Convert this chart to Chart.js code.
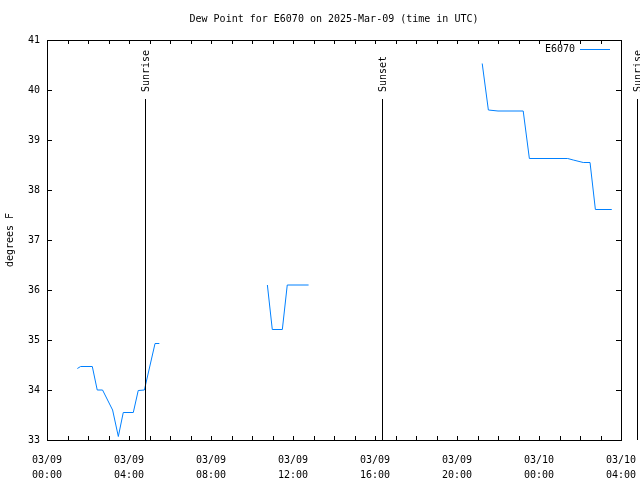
<!DOCTYPE html>
<html>
<head>
<meta charset="utf-8">
<title>Dew Point for E6070</title>
<script src="https://cdn.jsdelivr.net/npm/chart.js@4"></script>
<style>
  html, body { margin: 0; padding: 0; background: #fff; }
  #wrap { width: 640px; height: 480px; }
</style>
</head>
<body>
<div id="wrap"><canvas id="myChart" width="640" height="480"></canvas></div>
<script>
// hours since 03/09 00:00 UTC, null = no data
const horas = [1.48, 1.64, 2.21, 2.45, 2.71, 3.2, 3.48, 3.72, 4.21, 4.45, 4.75, 5.27, 5.48,
    8,
    10.75, 10.99, 11.48, 11.72, 12.76,
    17,
    21.23, 21.53, 22.0, 23.23, 23.53, 25.4, 25.67, 26.16, 26.49, 26.75, 27.55];
const puntoRocio = [34.43, 34.47, 34.47, 34.0, 34.0, 33.6, 33.07, 33.55, 33.55, 33.99, 34.0, 34.93, 34.93,
    null,
    36.1, 35.21, 35.21, 36.1, 36.1,
    null,
    40.53, 39.6, 39.58, 39.58, 38.63, 38.63, 38.6, 38.55, 38.55, 37.61, 37.61];

const etiquetasX = [["03/09", "00:00"], ["03/09", "04:00"], ["03/09", "08:00"], ["03/09", "12:00"],
    ["03/09", "16:00"], ["03/09", "20:00"], ["03/10", "00:00"], ["03/10", "04:00"]];

const eventos = ["Sunrise", "Sunset", "Sunrise"];
const horasEventos = [4.78, 16.34, 28.78];
const topeEventos = 39.82;

const titulo = "Dew Point for E6070 on 2025-Mar-09 (time in UTC)";
const nombreSerie = "E6070";
const colorSerie = "#0080ff";
const fuente = "'DejaVu Sans Mono', monospace";

const marcoPlugin = {
    id: "marco",
    afterDraw(chart) {
        const ctx = chart.ctx;
        const a = chart.chartArea;
        const x = chart.scales.x;
        const y = chart.scales.y;
        ctx.save();
        ctx.strokeStyle = "#000";
        ctx.lineWidth = 1;
        ctx.strokeRect(Math.round(a.left) + 0.5, Math.round(a.top) + 0.5,
            Math.round(a.right - a.left), Math.round(a.bottom - a.top));
        // ticks hacia adentro
        ctx.beginPath();
        for (let h = 0; h <= 28; h++) {
            const px = Math.round(x.getPixelForValue(h)) + 0.5;
            ctx.moveTo(px, a.bottom); ctx.lineTo(px, a.bottom - 4);
            ctx.moveTo(px, a.top); ctx.lineTo(px, a.top + 4);
        }
        for (let v = 33; v <= 41; v++) {
            const py = Math.round(y.getPixelForValue(v)) + 0.5;
            ctx.moveTo(a.left, py); ctx.lineTo(a.left + 5, py);
            ctx.moveTo(a.right, py); ctx.lineTo(a.right - 5, py);
        }
        ctx.stroke();
        ctx.font = "10px " + fuente;
        ctx.fillStyle = "#000";
        // titulo centrado sobre el area del grafico
        ctx.textAlign = "center";
        ctx.textBaseline = "middle";
        ctx.fillText(titulo, (a.left + a.right) / 2, 19);
        // lineas de amanecer / atardecer
        eventos.forEach((nombre, i) => {
            const px = Math.round(x.getPixelForValue(horasEventos[i])) + 0.5;
            const pyTop = y.getPixelForValue(topeEventos);
            ctx.beginPath();
            ctx.moveTo(px, pyTop);
            ctx.lineTo(px, a.bottom);
            ctx.stroke();
            ctx.save();
            ctx.translate(px, pyTop - 7);
            ctx.rotate(-Math.PI / 2);
            ctx.textAlign = "left";
            ctx.textBaseline = "middle";
            ctx.fillText(nombre, 0, 1);
            ctx.restore();
        });
        // leyenda
        ctx.textAlign = "right";
        ctx.textBaseline = "middle";
        ctx.fillText(nombreSerie, 575, 49);
        ctx.strokeStyle = colorSerie;
        ctx.beginPath();
        ctx.moveTo(580, 49.5);
        ctx.lineTo(610, 49.5);
        ctx.stroke();
        ctx.restore();
    }
};

const datos = horas.map((h, i) => ({ x: h, y: puntoRocio[i] }));

const config = {
    type: "line",
    data: {
        datasets: [{
            label: nombreSerie,
            data: datos,
            borderColor: colorSerie,
            borderWidth: 1,
            pointRadius: 0,
            tension: 0,
            spanGaps: false
        }]
    },
    options: {
        responsive: false,
        animation: false,
        layout: { padding: { left: 0, right: 19, top: 40, bottom: 0 } },
        plugins: {
            legend: { display: false },
            tooltip: { enabled: false },
            title: { display: false }
        },
        scales: {
            x: {
                type: "linear",
                min: 0,
                max: 28,
                afterFit: (s) => { s.height = 40; s.paddingLeft = 0; s.paddingRight = 0; },
                afterBuildTicks: (s) => { s.ticks = etiquetasX.map((_, i) => ({ value: i * 4 })); },
                ticks: {
                    autoSkip: false,
                    maxRotation: 0,
                    padding: 13,
                    color: "#000",
                    font: { family: fuente, size: 10, lineHeight: 1.5 },
                    callback: (v) => etiquetasX[v / 4]
                },
                grid: { display: false, drawTicks: false },
                border: { display: false }
            },
            y: {
                min: 33,
                max: 41,
                afterFit: (s) => { s.width = 47; s.paddingTop = 0; s.paddingBottom = 0; },
                ticks: {
                    stepSize: 1,
                    padding: 7,
                    color: "#000",
                    font: { family: fuente, size: 10 }
                },
                title: {
                    display: true,
                    text: "degrees F",
                    color: "#000",
                    font: { family: fuente, size: 10 },
                    padding: { top: 4, bottom: 0 }
                },
                grid: { display: false, drawTicks: false },
                border: { display: false }
            }
        }
    },
    plugins: [marcoPlugin]
};

new Chart(document.getElementById("myChart"), config);
</script>
</body>
</html>
